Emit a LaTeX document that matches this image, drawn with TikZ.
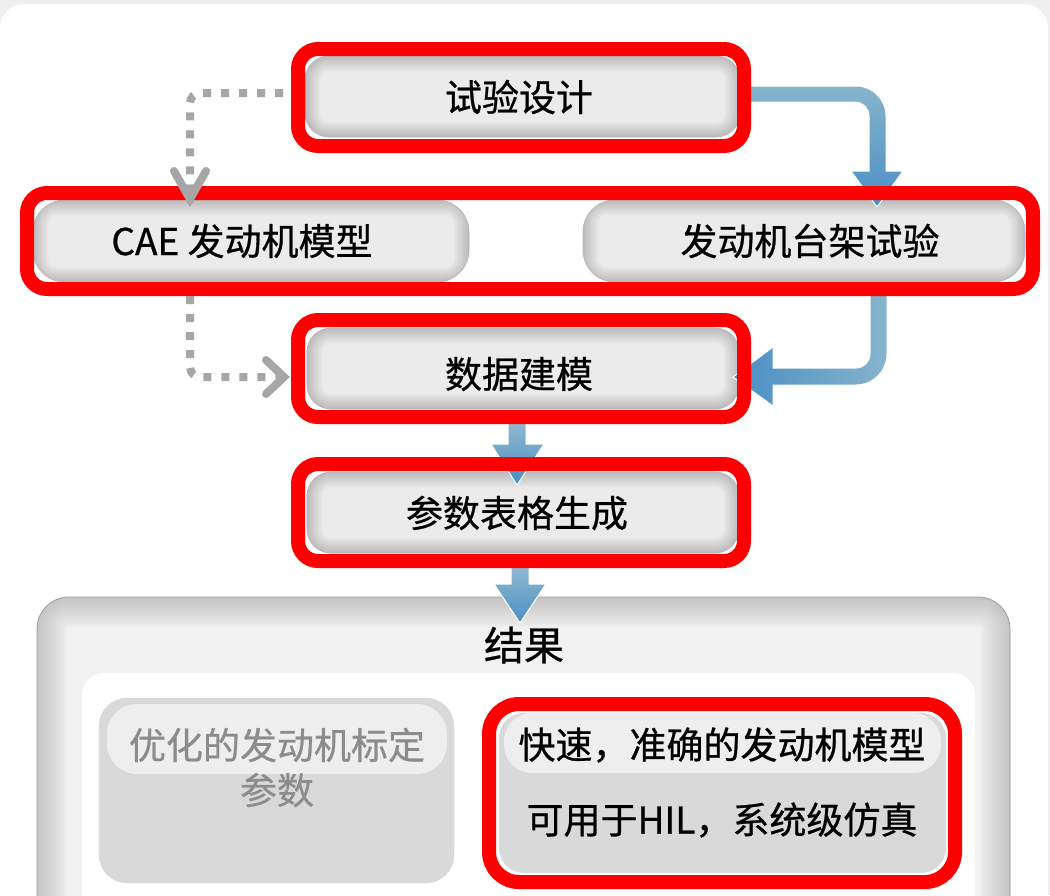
\documentclass[tikz,border=0pt]{standalone}
\usepackage{fontspec}
\setmainfont{Noto Sans CJK SC}[FakeBold=0.7]
\usetikzlibrary{arrows.meta}
\definecolor{redl}{HTML}{FF0000}
\definecolor{dotg}{HTML}{A6A6A6}
\definecolor{blueL}{HTML}{86B4CC}
\definecolor{blueD}{HTML}{4A8EC4}
\definecolor{bgc}{HTML}{EFEFEF}
\definecolor{boxg}{HTML}{D9D9D9}
\definecolor{bandg}{HTML}{EEEEEE}
\definecolor{txtg}{HTML}{8C8C8C}
\definecolor{inlight}{HTML}{EBEBEB}
\definecolor{reslight}{HTML}{F1F1F1}
\definecolor{glow}{HTML}{666666}
\tikzset{
  inbox/.style={fill=inlight, draw=gray!55, line width=0.8pt, rounded corners=24pt, inner sep=0pt,
    path picture={\foreach \w in {2,4,...,30}
      \draw[line width=\w pt, glow, opacity=0.024, rounded corners=24pt]
        (path picture bounding box.south west) rectangle (path picture bounding box.north east);}},
  resbox/.style={fill=reslight, draw=gray!75, line width=0.8pt, rounded corners=32pt, inner sep=0pt,
    path picture={\foreach \w in {3,6,...,60}
      \draw[line width=\w pt, glow, opacity=0.017, rounded corners=32pt]
        (path picture bounding box.south west) rectangle (path picture bounding box.north east);}},
  redbox/.style={draw=redl, line width=14pt, rounded corners=20pt, inner sep=0pt},
  dots/.style={draw=dotg, line width=8pt, dash pattern=on 8pt off 10pt, rounded corners=10pt},
  chev/.style={draw=dotg, line width=8pt, line cap=round, line join=miter},
  barrow/.style={draw=white, line width=1pt},
  lbl/.style={inner sep=0pt, font=\fontsize{37pt}{45pt}\selectfont, align=center}
}
\begin{document}
\begin{tikzpicture}[x=1pt,y=-1pt]
\useasboundingbox (0,0) rectangle (1050,895);
\fill[bgc] (0,0) rectangle (1050,895);
\fill[white, rounded corners=24pt] (0,4) rectangle (1048,960);

% results area
\node[resbox, minimum width=973pt, minimum height=340pt] (res) at (523.5,767) {};
\node[lbl, font=\fontsize{40pt}{45pt}\selectfont] (reslbl) at (524,645) {结果};
\node[fill=white, rounded corners=22pt, minimum width=893pt, minimum height=267pt, inner sep=0pt] (wb) at (528.5,806.5) {};
\node[fill=boxg, draw=gray!25, rounded corners=28pt, minimum width=355pt, minimum height=185pt, inner sep=0pt] (lg) at (276.5,790.5) {};
\node[fill=bandg, rounded corners=30pt, minimum width=340pt, minimum height=70pt, inner sep=0pt] (lgb) at (277,739) {};
\node[lbl, text=txtg] (lt) at (277,767.5) {优化的发动机标定\\参数};
\node[fill=boxg, rounded corners=25pt, minimum width=447pt, minimum height=160pt, inner sep=0pt] (rg) at (722.5,793) {};
\node[fill=bandg, rounded corners=28pt, minimum width=437pt, minimum height=60pt, inner sep=0pt] (rgb) at (722.5,743) {};
\node[lbl] (rt1) at (722,745) {快速，准确的发动机模型};
\node[lbl] (rt2) at (722,820) {可用于HIL，系统级仿真};

% inner shaded boxes
\node[inbox, minimum width=435pt, minimum height=81pt] (b1in) at (522.5,96.5) {};
\node[inbox, rounded corners=32pt, minimum width=436pt, minimum height=82pt] (b2lin) at (251,241) {};
\node[inbox, rounded corners=32pt, minimum width=442pt, minimum height=82pt] (b2rin) at (804,241) {};
\node[inbox, minimum width=432pt, minimum height=81pt] (b3in) at (523,368.5) {};
\node[inbox, minimum width=432pt, minimum height=81pt] (b4in) at (523,512.5) {};

% blue arrows
\shade[barrow, top color=blueL, bottom color=blueD]
  (745,86) -- (856,86) .. controls (872.6,86) and (886,99.4) .. (886,116) -- (886,171) -- (903,171) -- (877,207) -- (851,171) -- (869,171) -- (869,116) .. controls (869,108.3) and (862.7,102) .. (855,102) -- (745,102) -- cycle;
\shade[barrow, left color=blueD, right color=blueL]
  (870,290) -- (870,354) .. controls (870,361.7) and (863.7,368) .. (856,368) -- (773,368) -- (773,347) -- (733,377) -- (773,406) -- (773,385) -- (856,385) .. controls (873.1,385) and (887,371.1) .. (887,354) -- (887,290) -- cycle;
\shade[barrow, top color=blueL!90, bottom color=blueD]
  (508,420) -- (526,420) -- (526,444) -- (544,444) -- (517,485) -- (491,444) -- (508,444) -- cycle;
\shade[barrow, top color=blueL!90, bottom color=blueD]
  (511,565) -- (529,565) -- (529,584) -- (546,584) -- (520,623) -- (494,584) -- (511,584) -- cycle;

% red outlined boxes with labels
\node[redbox, minimum width=446pt, minimum height=97pt] (b1) at (521,97.5) {};
\node[lbl] (t1) at (519,97) {试验设计};
\node[redbox, minimum width=1006pt, minimum height=96pt] (b2) at (530,241) {};
\node[lbl] (t2l) at (242,241) {CAE 发动机模型};
\node[lbl] (t2r) at (810,241) {发动机台架试验};
\node[redbox, minimum width=446pt, minimum height=97pt] (b3) at (521,368.5) {};
\node[lbl] (t3) at (519,374) {数据建模};
\node[redbox, minimum width=446pt, minimum height=97pt] (b4) at (521,512.5) {};
\node[lbl] (t4) at (517,513) {参数表格生成};
\node[redbox, rounded corners=30pt, minimum width=466pt, minimum height=178pt] (rr) at (722,793) {};

% gray dotted connectors
\coordinate (c1) at (190,199);
\coordinate (c3) at (284,377);
\draw[dots] ([xshift=-8pt,yshift=4.5pt]b1.west) -| ([yshift=-4pt]c1);
\draw[chev] ([shift={(-16,-28)}]c1) -- (c1) -- ([shift={(16,-28)}]c1);
\draw[dots] (b2.south -| c1) |- ([xshift=-4pt]c3);
\draw[chev] ([shift={(-18,-17)}]c3) -- (c3) -- ([shift={(-18,17)}]c3);
\end{tikzpicture}
\end{document}
